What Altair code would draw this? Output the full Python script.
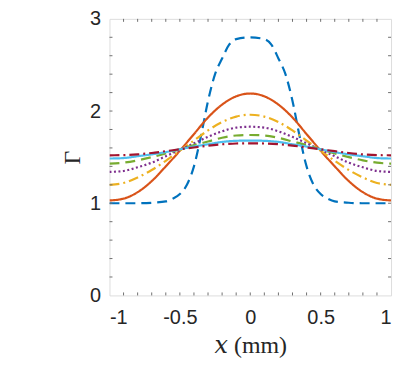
import altair as alt
import pandas as pd

# grid for smooth curves
x_grid = [-1.0, -0.9, -0.8, -0.7, -0.6, -0.5, -0.4, -0.3, -0.2, -0.1, 0.0,
          0.1, 0.2, 0.3, 0.4, 0.5, 0.6, 0.7, 0.8, 0.9, 1.0]

# initial profile (finer grid)
x_blue = [-1.0, -0.9, -0.8, -0.7, -0.6, -0.55, -0.5, -0.45, -0.4, -0.35, -0.3,
          -0.25, -0.2, -0.15, -0.1, 0.0, 0.1, 0.15, 0.2, 0.25, 0.3, 0.35, 0.4,
          0.45, 0.5, 0.55, 0.6, 0.7, 0.8, 0.9, 1.0]
y_blue = [1.0, 1.0, 1.0, 1.005, 1.02, 1.05, 1.10, 1.20, 1.40, 1.73, 2.11,
          2.40, 2.57, 2.72, 2.78, 2.80, 2.78, 2.72, 2.57, 2.40, 2.11, 1.73, 1.40,
          1.20, 1.10, 1.05, 1.02, 1.005, 1.0, 1.0, 1.0]

y_orange = [1.03, 1.05, 1.12, 1.24, 1.40, 1.57, 1.75, 1.93, 2.07, 2.16, 2.19,
            2.16, 2.07, 1.93, 1.75, 1.57, 1.40, 1.24, 1.12, 1.05, 1.03]
y_yellow = [1.20, 1.22, 1.28, 1.36, 1.46, 1.57, 1.68, 1.79, 1.88, 1.94, 1.96,
            1.94, 1.88, 1.79, 1.68, 1.57, 1.46, 1.36, 1.28, 1.22, 1.20]
y_purple = [1.34, 1.35, 1.39, 1.44, 1.51, 1.58, 1.65, 1.72, 1.78, 1.82, 1.83,
            1.82, 1.78, 1.72, 1.65, 1.58, 1.51, 1.44, 1.39, 1.35, 1.34]
y_green = [1.43, 1.44, 1.465, 1.50, 1.54, 1.585, 1.63, 1.67, 1.71, 1.735, 1.74,
           1.735, 1.71, 1.67, 1.63, 1.585, 1.54, 1.50, 1.465, 1.44, 1.43]
y_cyan = [1.485, 1.49, 1.51, 1.53, 1.555, 1.585, 1.615, 1.64, 1.665, 1.677, 1.68,
          1.677, 1.665, 1.64, 1.615, 1.585, 1.555, 1.53, 1.51, 1.49, 1.485]
y_red = [1.52, 1.522, 1.53, 1.545, 1.565, 1.585, 1.605, 1.625, 1.64, 1.648, 1.65,
         1.648, 1.64, 1.625, 1.605, 1.585, 1.565, 1.545, 1.53, 1.522, 1.52]

series_names = ["t0", "t1", "t2", "t3", "t4", "t5", "t6"]
series_colors = ["#0072BD", "#D95319", "#EDB120", "#7E2F8E", "#77AC30", "#4DBEEE", "#A2142F"]
series_dash = [[10, 6], [1, 0], [10, 4, 2, 4], [2, 2.5], [10, 6], [1, 0], [10, 4, 2, 4]]

x_tick_labels = [-1, -0.5, 0, 0.5, 1]
y_tick_labels = [0, 1, 2, 3]
x_minor = [-0.9, -0.8, -0.7, -0.6, -0.5, -0.4, -0.3, -0.2, -0.1, 0.0,
           0.1, 0.2, 0.3, 0.4, 0.5, 0.6, 0.7, 0.8, 0.9]
y_minor = [0.2, 0.4, 0.6, 0.8, 1.0, 1.2, 1.4, 1.6, 1.8, 2.0, 2.2, 2.4, 2.6, 2.8]

rows = []
for i, (xv, yv) in enumerate(zip(x_blue, y_blue)):
    rows.append({"x": xv, "y": yv, "s": series_names[0], "k": 0, "i": i})
for k, ys in enumerate([y_orange, y_yellow, y_purple, y_green, y_cyan, y_red], start=1):
    for i, (xv, yv) in enumerate(zip(x_grid, ys)):
        rows.append({"x": xv, "y": yv, "s": series_names[k], "k": k, "i": i})
df = pd.DataFrame(rows)

W, H = 283, 278
xscale = alt.Scale(domain=[-1, 1], nice=False, zero=False)
yscale = alt.Scale(domain=[0, 3], nice=False, zero=False)

label_expr = "replace(format(datum.value, '~g'), '\u2212', '-')"
serif = "Liberation Serif, DejaVu Serif, serif"
sans = "Liberation Sans, Arial, sans-serif"

layers = []
for k, name in enumerate(series_names):
    sub = df[df["s"] == name]
    if k == 0:
        xenc = alt.X("x:Q", scale=xscale,
                     axis=alt.Axis(values=x_tick_labels, labelExpr=label_expr, title="𝑥 (mm)",
                                   ticks=False, domain=False, grid=False,
                                   labelFont=sans, labelFontSize=20, labelColor="#262626",
                                   labelPadding=12, titleFont=serif, titleFontSize=24,
                                   titleFontWeight="normal", titleColor="#262626",
                                   titleBaseline="alphabetic", titleY=57))
        yenc = alt.Y("y:Q", scale=yscale,
                     axis=alt.Axis(values=y_tick_labels, labelExpr=label_expr, title="Γ",
                                   ticks=False, domain=False, grid=False,
                                   labelFont=sans, labelFontSize=20, labelColor="#262626",
                                   labelPadding=9, titleFont=serif, titleFontSize=24,
                                   titleFontWeight="normal", titleColor="#262626",
                                   titleBaseline="alphabetic", titleX=-30))
    else:
        xenc = alt.X("x:Q", scale=xscale)
        yenc = alt.Y("y:Q", scale=yscale)
    layers.append(
        alt.Chart(sub).mark_line(color=series_colors[k], strokeDash=series_dash[k],
                                 strokeWidth=2.2, interpolate="monotone", clip=True).encode(
            x=xenc, y=yenc, order=alt.Order("i:Q"))
    )

tick_color = "#707070"
xt = pd.DataFrame({"x": x_minor})
yt = pd.DataFrame({"y": y_minor})
ticks = [
    alt.Chart(xt).mark_rule(color=tick_color, strokeWidth=1).encode(
        x=alt.X("x:Q", scale=xscale), y=alt.value(H), y2=alt.value(H - 3)),
    alt.Chart(xt).mark_rule(color=tick_color, strokeWidth=1).encode(
        x=alt.X("x:Q", scale=xscale), y=alt.value(0), y2=alt.value(3)),
    alt.Chart(yt).mark_rule(color=tick_color, strokeWidth=1).encode(
        y=alt.Y("y:Q", scale=yscale), x=alt.value(0), x2=alt.value(3)),
    alt.Chart(yt).mark_rule(color=tick_color, strokeWidth=1).encode(
        y=alt.Y("y:Q", scale=yscale), x=alt.value(W), x2=alt.value(W - 3)),
]

chart = alt.layer(*layers, *ticks).properties(
    width=W, height=H,
    autosize=alt.AutoSizeParams(type="none"),
    padding={"left": 102, "top": 10, "right": 8, "bottom": 66},
).configure_view(stroke=tick_color, strokeWidth=1).configure(background="white")

chart.save("out.html", embed_options={"renderer": "svg", "actions": False})
